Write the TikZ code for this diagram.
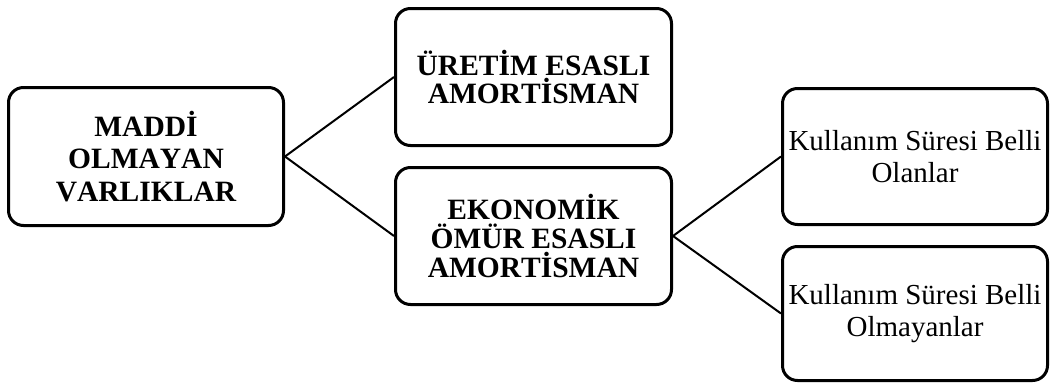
\documentclass[tikz,border=0pt]{standalone}
\usepackage{fontspec}
\setmainfont[Kerning=Off]{Liberation Serif}
\begin{document}
\begin{tikzpicture}[x=1pt,y=-1pt,
  box/.style={draw=black, line width=3pt, rounded corners=15pt, inner sep=0pt,
    align=center, font=\fontsize{29}{32}\selectfont},
  boldbox/.style={box, font=\fontsize{29.5}{#1}\selectfont\bfseries},
  link/.style={draw=black, line width=2pt}]
\useasboundingbox (0,0) rectangle (1050,383);

% root category
\node[boldbox=32.5, minimum width=275pt, minimum height=138pt] (root) at (146,156.5)
  {MADDİ\\OLMAYAN\\VARLIKLAR};

% depreciation methods
\node[boldbox=28.5, minimum width=276pt, minimum height=137pt] (uretim) at (533.5,77)
  {ÜRETİM ESASLI\\AMORTİSMAN};
\node[boldbox=29, minimum width=276pt, minimum height=137pt] (ekonomik) at (533.5,236)
  {EKONOMİK\\ÖMÜR ESASLI\\AMORTİSMAN};

% useful life groups
\node[box, minimum width=265pt, minimum height=136pt] (belli) at (915,156.5)
  {Kullanım Süresi Belli\\Olanlar};
\node[box, minimum width=265pt, minimum height=134pt] (bellisiz) at (915,313.5)
  {Kullanım Süresi Belli\\Olmayanlar};

% connectors
\draw[link] (root.east) -- (uretim.west);
\draw[link] (root.east) -- (ekonomik.west);
\draw[link] (ekonomik.east) -- (belli.west);
\draw[link] (ekonomik.east) -- (bellisiz.west);
\end{tikzpicture}
\end{document}
